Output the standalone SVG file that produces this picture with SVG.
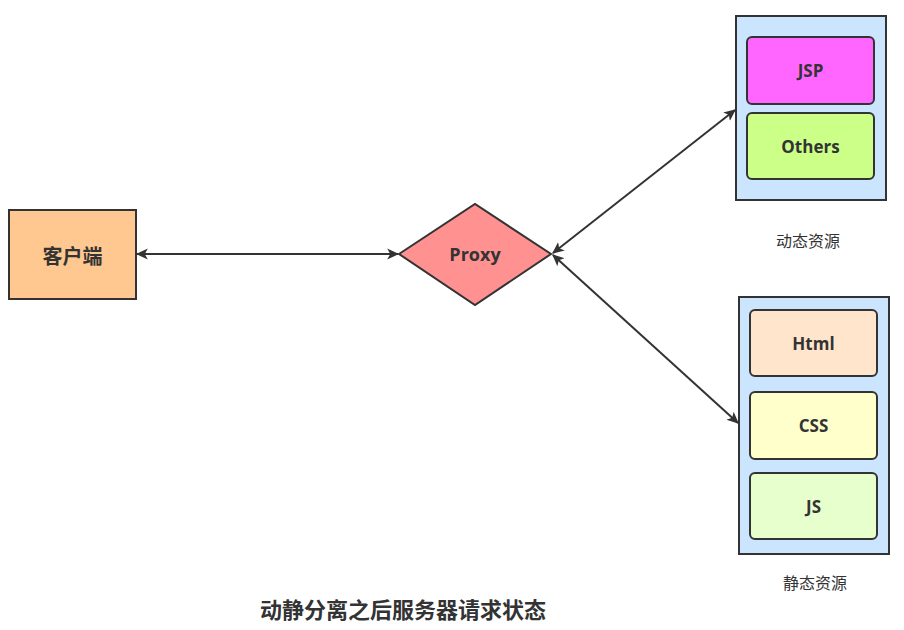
<svg xmlns="http://www.w3.org/2000/svg" width="904" height="630" viewBox="0 0 904 630">
<defs>
<marker id="ah" viewBox="0 0 10 10" refX="9" refY="5" markerWidth="12" markerHeight="12" markerUnits="userSpaceOnUse" orient="auto-start-reverse">
<path d="M0,0.5 L10,5 L0,9.5 L2.5,5 Z" fill="#333"/>
</marker>
<style>
.t{font-family:"Open Sans","Noto Sans CJK SC","Noto Sans",sans-serif;font-weight:bold;fill:#333;text-anchor:middle;dominant-baseline:central}
.c{font-family:"Noto Sans CJK SC",sans-serif;fill:#333;text-anchor:middle;dominant-baseline:central}
.box{stroke:#333;stroke-width:2}
.inner{stroke:#333;stroke-width:2}
.conn{stroke:#333;stroke-width:2;fill:none;marker-start:url(#ah);marker-end:url(#ah)}
</style>
</defs>
<rect width="904" height="630" fill="#fff"/>
<g id="connectors">
<line class="conn" x1="137" y1="254" x2="398" y2="254"/>
<line class="conn" x1="553" y1="253" x2="735" y2="110"/>
<line class="conn" x1="553" y1="255" x2="738" y2="423"/>
</g>
<g id="client">
<rect class="box" x="9" y="210" width="127" height="89" fill="#ffc890"/>
<text class="t" x="72.5" y="255" font-size="20" style="font-family:'Noto Sans CJK SC',sans-serif">客户端</text>
</g>
<g id="proxy">
<polygon class="box" points="399,254 475,204 551,254 475,305" fill="#ff9191"/>
<text class="t" x="475" y="254" font-size="18">Proxy</text>
</g>
<g id="dynamic">
<rect class="box" x="736" y="16" width="150" height="184" fill="#cce5ff"/>
<g id="jsp">
<rect class="inner" x="747" y="37" width="127" height="67" rx="5" fill="#ff66ff"/>
<text class="t" x="810.5" y="70.5" font-size="17">JSP</text>
</g>
<g id="others">
<rect class="inner" x="747" y="113" width="127" height="66" rx="5" fill="#ccff88"/>
<text class="t" x="810.5" y="146" font-size="17">Others</text>
</g>
<text class="c" x="808" y="240" font-size="16">动态资源</text>
</g>
<g id="static">
<rect class="box" x="739" y="297" width="150" height="257" fill="#cce5ff"/>
<g id="html">
<rect class="inner" x="750" y="310" width="127" height="66" rx="5" fill="#ffe5cc"/>
<text class="t" x="813.5" y="343" font-size="17">Html</text>
</g>
<g id="css">
<rect class="inner" x="750" y="392" width="127" height="67" rx="5" fill="#ffffcc"/>
<text class="t" x="813.5" y="425.5" font-size="17">CSS</text>
</g>
<g id="js">
<rect class="inner" x="750" y="473" width="127" height="66" rx="5" fill="#e6ffcc"/>
<text class="t" x="813.5" y="506" font-size="17">JS</text>
</g>
<text class="c" x="815" y="582" font-size="16">静态资源</text>
</g>
<text class="c" x="403" y="608" font-size="22" font-weight="bold">动静分离之后服务器请求状态</text>
</svg>
